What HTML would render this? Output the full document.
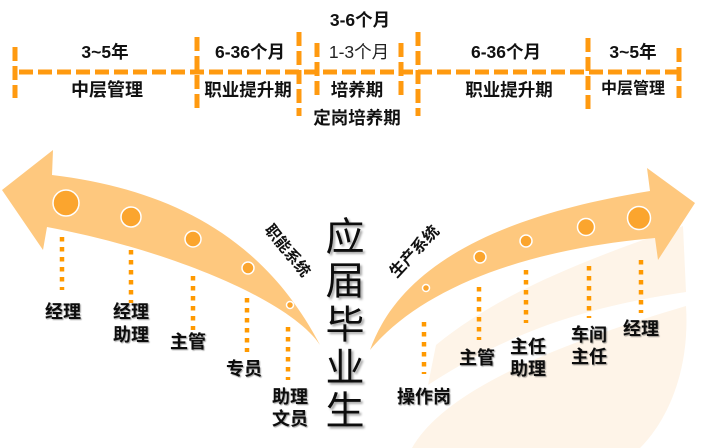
<!DOCTYPE html>
<html>
<head>
<meta charset="utf-8">
<style>
html,body{margin:0;padding:0;background:#fff;}
svg{display:block;}
text{font-family:"Liberation Sans","Noto Sans CJK SC",sans-serif;}
.b{font-weight:bold;fill:#111;}
</style>
</head>
<body>
<svg width="712" height="448" viewBox="0 0 712 448" xmlns="http://www.w3.org/2000/svg">
<defs>
<filter id="sh" x="-20%" y="-20%" width="140%" height="140%">
<feDropShadow dx="2" dy="2" stdDeviation="1" flood-color="#000" flood-opacity="0.35"/>
</filter>
<filter id="sh2" x="-20%" y="-20%" width="140%" height="140%">
<feDropShadow dx="1" dy="1" stdDeviation="0.5" flood-color="#000" flood-opacity="0.4"/>
</filter>
</defs>
<rect width="712" height="448" fill="#fff"/>

<!-- faint background leaf shapes -->
<path d="M436 345 C 500 292, 590 258, 683 226 L 686 292 C 600 305, 520 325, 428 385 Z" fill="#FEF4E8"/>
<path d="M412 448 C 440 398, 530 352, 686 306 C 690 370, 668 420, 640 448 Z" fill="#FEF4E8"/>

<!-- timeline -->
<g stroke="#FF9A10" stroke-width="5" fill="none" stroke-dasharray="14 5">
<line x1="19" y1="72" x2="679" y2="72"/>
<line x1="15" y1="47" x2="15" y2="98"/>
<line x1="197" y1="37" x2="197" y2="111"/>
<line x1="299" y1="32" x2="299" y2="116"/>
<line x1="317" y1="43" x2="317" y2="98"/>
<line x1="401" y1="43" x2="401" y2="98"/>
<line x1="418" y1="32" x2="418" y2="116"/>
<line x1="588" y1="38" x2="588" y2="111"/>
<line x1="679" y1="48" x2="679" y2="98"/>
</g>

<g text-anchor="middle" dominant-baseline="central">
<text class="b" x="105" y="52" font-size="17.5">3~5年</text>
<text class="b" x="107" y="90" font-size="18">中层管理</text>
<text class="b" x="250" y="52" font-size="17.5">6-36个月</text>
<text class="b" x="248" y="90" font-size="17.5">职业提升期</text>
<text class="b" x="360" y="20" font-size="17.5">3-6个月</text>
<text x="359" y="52" font-size="17.5" fill="#222">1-3个月</text>
<text class="b" x="357" y="90" font-size="17.5">培养期</text>
<text class="b" x="357" y="118" font-size="17.5">定岗培养期</text>
<text class="b" x="506" y="52" font-size="17.5">6-36个月</text>
<text class="b" x="509" y="90" font-size="17.5">职业提升期</text>
<text class="b" x="633" y="52" font-size="17.5">3~5年</text>
<text x="633" y="89" font-size="16" fill="#111" font-weight="600">中层管理</text>
</g>

<!-- left arrow -->
<path d="M52 175 C 160 188, 260 230, 320 345 C 290 300, 170 250, 47 227 L 43 250 L 2 190 L 53 150 Z" fill="#FEC87E"/>
<!-- right arrow -->
<path d="M370 350 C 395 280, 470 220, 650 191 L 647 168 L 695 203 L 658 260 L 655 238 C 520 250, 420 290, 370 350 Z" fill="#FEC87E"/>

<!-- circles -->
<g fill="#FBA52E" stroke="#fff" stroke-width="1.5">
<circle cx="66" cy="203" r="13"/>
<circle cx="131" cy="217" r="10"/>
<circle cx="193" cy="239" r="8"/>
<circle cx="248" cy="268" r="6"/>
<circle cx="290" cy="305" r="3.5"/>
<circle cx="426" cy="288" r="3.5"/>
<circle cx="480" cy="257" r="6"/>
<circle cx="526" cy="241" r="6"/>
<circle cx="586" cy="227" r="8.5"/>
<circle cx="639" cy="218" r="11.5"/>
</g>

<!-- dotted lines -->
<g stroke="#FF9900" stroke-width="4.5" stroke-dasharray="4.5 5.5" fill="none">
<line x1="62" y1="237" x2="62" y2="290"/>
<line x1="131" y1="250" x2="131" y2="303"/>
<line x1="193" y1="276" x2="193" y2="330"/>
<line x1="247" y1="298" x2="247" y2="352"/>
<line x1="288" y1="327" x2="288" y2="380"/>
<line x1="424" y1="322" x2="424" y2="374"/>
<line x1="479" y1="287" x2="479" y2="340"/>
<line x1="526" y1="270" x2="526" y2="323"/>
<line x1="589" y1="266" x2="589" y2="318"/>
<line x1="641" y1="260" x2="641" y2="313"/>
</g>

<!-- position labels -->
<g text-anchor="middle" dominant-baseline="central" class="b" font-size="18" filter="url(#sh2)">
<text class="b" x="63" y="312">经理</text>
<text class="b" x="131" y="312">经理</text>
<text class="b" x="131" y="335">助理</text>
<text class="b" x="188" y="342">主管</text>
<text class="b" x="244" y="369">专员</text>
<text class="b" x="290" y="397">助理</text>
<text class="b" x="290" y="419">文员</text>
<text class="b" x="424" y="397">操作岗</text>
<text class="b" x="477" y="358">主管</text>
<text class="b" x="528" y="347">主任</text>
<text class="b" x="528" y="369">助理</text>
<text class="b" x="589" y="335">车间</text>
<text class="b" x="589" y="357">主任</text>
<text class="b" x="641" y="329">经理</text>
</g>

<!-- rotated system labels -->
<text class="b" font-size="15.5" text-anchor="middle" dominant-baseline="central" transform="translate(287 251) rotate(51)">职能系统</text>
<text class="b" font-size="16" text-anchor="middle" dominant-baseline="central" transform="translate(415 252) rotate(-47)">生产系统</text>

<!-- center vertical text -->
<g text-anchor="middle" dominant-baseline="central" font-size="39" fill="#111" filter="url(#sh)">
<text x="345" y="238">应</text>
<text x="345" y="282">届</text>
<text x="345" y="326">毕</text>
<text x="345" y="369">业</text>
<text x="345" y="412">生</text>
</g>
</svg>
</body>
</html>
